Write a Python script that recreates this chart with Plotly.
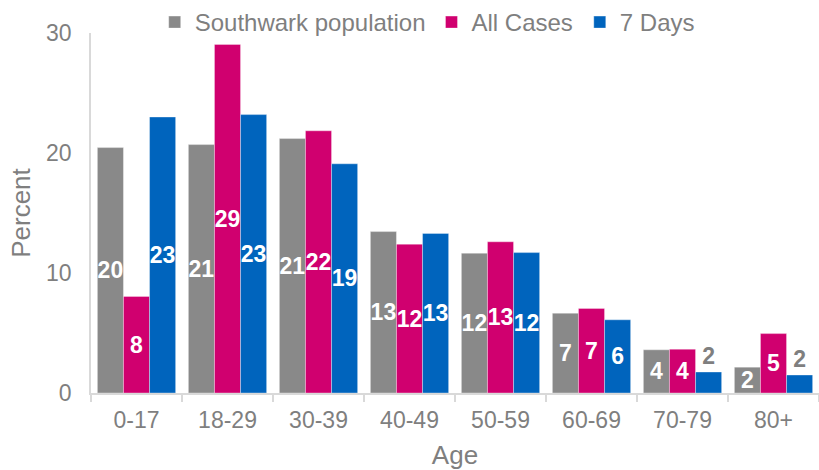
import plotly.graph_objects as go

ages = ["0-17", "18-29", "30-39", "40-49", "50-59", "60-69", "70-79", "80+"]
southwark = [20.45, 20.7, 21.2, 13.45, 11.65, 6.65, 3.6, 2.15]
all_cases = [8.05, 29.05, 21.85, 12.4, 12.6, 7.05, 3.65, 4.95]
seven_days = [23.0, 23.2, 19.1, 13.3, 11.7, 6.1, 1.75, 1.5]

series_names = ["Southwark population", "All Cases", "7 Days"]
colors = ["#898989", "#D0006F", "#0064BD"]
legend_ids = ["legend", "legend2", "legend3"]
legend_x = [0.0875, 0.4677, 0.6714]
FONT = "Arial, Liberation Sans, sans-serif"
GREY_TXT = "#7f7f7f"

fig = go.Figure()
for name, vals, col, lid in zip(series_names, [southwark, all_cases, seven_days], colors, legend_ids):
    labels = [f"{round(v):d}" for v in vals]
    pos = ["inside" if v >= 2.0 else "outside" for v in vals]
    tcol = ["white" if v >= 2.0 else GREY_TXT for v in vals]
    fig.add_trace(go.Bar(
        name=name, x=ages, y=vals, legend=lid,
        marker=dict(color=col, line=dict(color="rgba(255,255,255,0.35)", width=1)),
        text=labels, textposition=pos, insidetextanchor="middle", constraintext="none", textangle=0,
        textfont=dict(family=FONT, size=23, color=tcol, weight="bold"),
        cliponaxis=False, hoverinfo="skip",
    ))

legend_common = dict(orientation="h", xanchor="left", y=1.092, yanchor="top",
                     font=dict(size=24, color=GREY_TXT), itemwidth=30,
                     bgcolor="rgba(0,0,0,0)")
fig.update_layout(
    width=819, height=470,
    margin=dict(l=91, r=0, t=32, b=77),
    paper_bgcolor="white", plot_bgcolor="white",
    barmode="group", bargap=0.14, bargroupgap=0,
    font=dict(family=FONT, color=GREY_TXT),
    legend=dict(x=legend_x[0], **legend_common),
    legend2=dict(x=legend_x[1], **legend_common),
    legend3=dict(x=legend_x[2], **legend_common),
    showlegend=True,
)
fig.update_yaxes(range=[0, 30], tickvals=[0, 10, 20, 30], showgrid=False, zeroline=False,
                 showline=True, linecolor="#d9d9d9", linewidth=1.5, ticks="",
                 tickfont=dict(size=23, color=GREY_TXT), ticklabelstandoff=13,
                 title=dict(text="Percent", font=dict(size=26, color=GREY_TXT), standoff=8))
fig.update_xaxes(showgrid=False, showline=True, linecolor="#d9d9d9", linewidth=1.5,
                 ticks="outside", tickson="boundaries", ticklen=7, tickcolor="#d9d9d9", tickwidth=1.5,
                 tickfont=dict(size=23, color=GREY_TXT), ticklabelstandoff=6,
                 title=dict(text="Age", font=dict(size=26, color=GREY_TXT), standoff=17))

fig.write_html("out.html")
